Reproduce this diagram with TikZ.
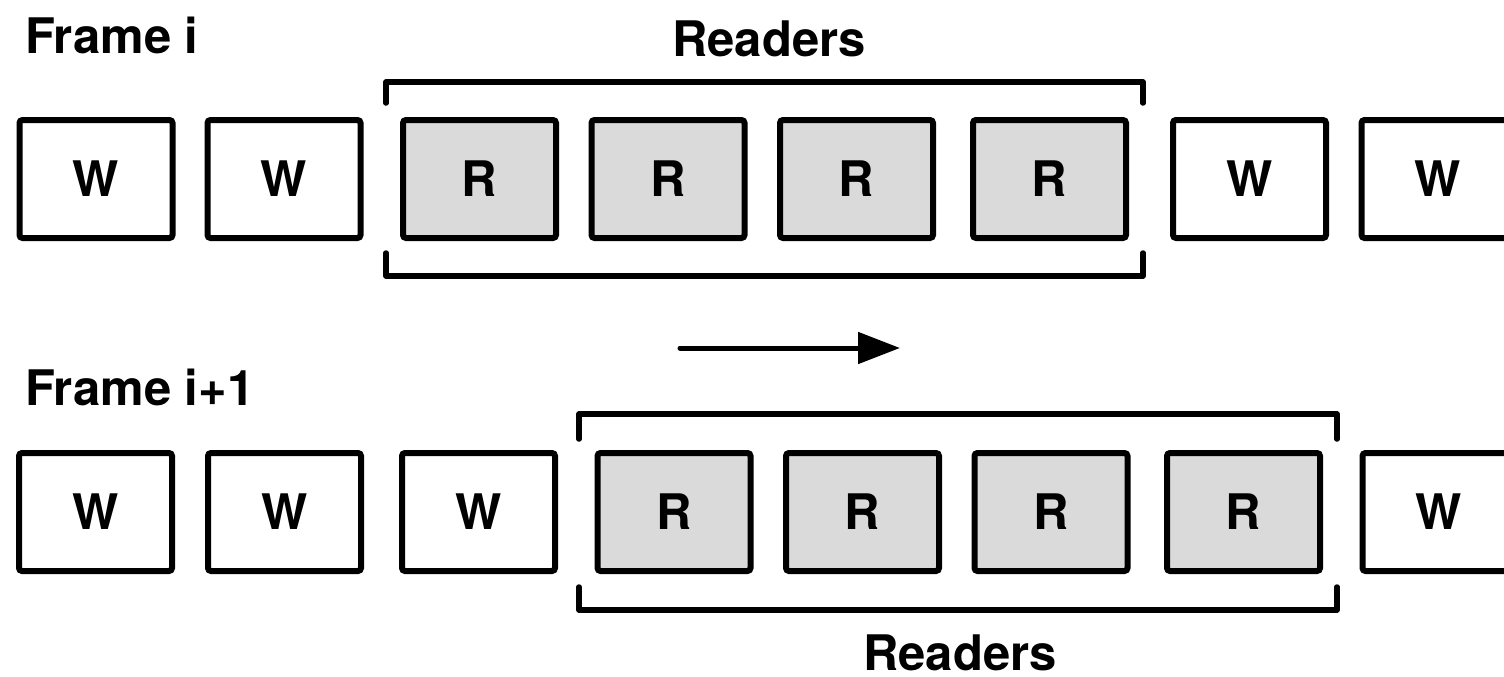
\documentclass[tikz,border=0pt]{standalone}
\usepackage{fontspec}
\setmainfont{TeX Gyre Heros}
\usetikzlibrary{arrows.meta}
\definecolor{rfill}{HTML}{DADADA}
\tikzset{
  cell/.style={draw=black, line width=6pt, rounded corners=3pt, minimum width=153pt, minimum height=118pt, inner sep=0pt, font=\fontsize{49}{49}\selectfont\bfseries, text height=35pt, text depth=0pt, fill=white},
  rcell/.style={cell, fill=rfill},
  bracket/.style={line width=5.5pt, line cap=round, line join=round},
  lbl/.style={font=\fontsize{49}{49}\selectfont\bfseries, inner sep=0pt, anchor=base, text height=36pt, text depth=0pt},
  shiftarrow/.style={line width=5pt, line cap=round, -{Triangle[length=42pt,width=31pt]}},
}
\begin{document}
\begin{tikzpicture}[x=1pt,y=-1pt]
\useasboundingbox (0,0) rectangle (1504,677);
\clip (0,0) rectangle (1504,677);

% labels
\node[lbl, anchor=base west] (fi) at (25,54) {Frame i};
\node[lbl] (rtop) at (769,57) {Readers};
\node[lbl, anchor=base west] (fi1) at (25,405) {Frame i+1};
\node[lbl] (rbot) at (960,670) {Readers};

% top row
\node[cell]  (t1) at (96,179) {W};
\node[cell]  (t2) at (284,179) {W};
\node[rcell] (t3) at (479.5,179) {R};
\node[rcell] (t4) at (668,179) {R};
\node[rcell] (t5) at (856.5,179) {R};
\node[rcell] (t6) at (1049.5,179) {R};
\node[cell]  (t7) at (1249.5,179) {W};
\node[cell]  (t8) at (1438,179) {W};

% top brackets
\coordinate (ta1) at (386,103);
\coordinate (ta2) at (386,82);
\coordinate (ta3) at (1143,82);
\coordinate (ta4) at (1143,103);
\draw[bracket] (ta1) -- (ta2) -- (ta3) -- (ta4);
\coordinate (tb1) at (386,253);
\coordinate (tb2) at (386,276);
\coordinate (tb3) at (1143,276);
\coordinate (tb4) at (1143,253);
\draw[bracket] (tb1) -- (tb2) -- (tb3) -- (tb4);

% arrow
\coordinate (a1) at (680,348);
\coordinate (a2) at (900,348);
\draw[shiftarrow] (a1) -- (a2);

% bottom row
\node[cell]  (b1) at (95.5,512) {W};
\node[cell]  (b2) at (284.5,512) {W};
\node[cell]  (b3) at (478.5,512) {W};
\node[rcell] (b4) at (674,512) {R};
\node[rcell] (b5) at (862.5,512) {R};
\node[rcell] (b6) at (1051,512) {R};
\node[rcell] (b7) at (1243.5,512) {R};
\node[cell]  (b8) at (1439,512) {W};

% bottom brackets
\coordinate (ba1) at (579,439);
\coordinate (ba2) at (579,414);
\coordinate (ba3) at (1337,414);
\coordinate (ba4) at (1337,439);
\draw[bracket] (ba1) -- (ba2) -- (ba3) -- (ba4);
\coordinate (bb1) at (579,587);
\coordinate (bb2) at (579,610);
\coordinate (bb3) at (1337,610);
\coordinate (bb4) at (1337,587);
\draw[bracket] (bb1) -- (bb2) -- (bb3) -- (bb4);
\end{tikzpicture}
\end{document}
